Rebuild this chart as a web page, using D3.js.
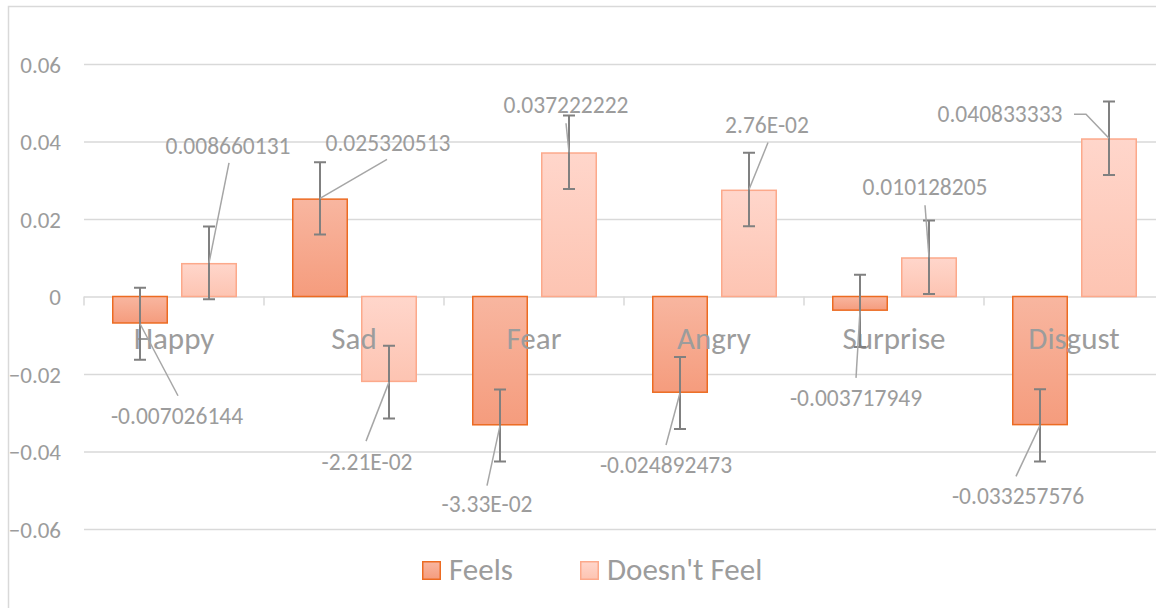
<!DOCTYPE html>
<html>
<head>
<meta charset="utf-8">
<script src="https://cdn.jsdelivr.net/npm/d3@7"></script>
<style>
  html, body { margin: 0; padding: 0; background: #fff; }
  svg { display: block; }
  text { font-family: Calibri, Carlito, Lato, "Open Sans", sans-serif; }
</style>
</head>
<body>
<svg id="chart" width="1156" height="608"></svg>
<script>
// ---- data ----
const categories = ["Happy", "Sad", "Fear", "Angry", "Surprise", "Disgust"];
const series = ["Feels", "Doesn't Feel"];
const feels = [-0.007026144, 0.025320513, -0.0333, -0.024892473, -0.003717949, -0.033257576];
const doesntFeel = [0.008660131, -0.0221, 0.037222222, 0.0276, 0.010128205, 0.040833333];
const feelsErr = [0.0093, 0.0093, 0.0093, 0.0093, 0.0093, 0.0093];
const doesntFeelErr = [0.0094, 0.0094, 0.0095, 0.0095, 0.0095, 0.0095];
const feelsLabels = ["-0.007026144", "0.025320513", "-3.33E-02", "-0.024892473", "-0.003717949", "-0.033257576"];
const doesntFeelLabels = ["0.008660131", "-2.21E-02", "0.037222222", "2.76E-02", "0.010128205", "0.040833333"];
const yTicks = [-0.06, -0.04, -0.02, 0, 0.02, 0.04, 0.06];

// ---- label layout (pixel offsets of label centre from bar end; leader end offset from label centre) ----
const feelsLabelLayout = [
  {dx: 37, dy: 92, lx: 1, ly: -20},
  {dx: 68, dy: -56, lx: -1, ly: 17},
  {dx: -13, dy: 78, lx: 0, ly: -18},
  {dx: -14, dy: 72, lx: 0, ly: -20},
  {dx: -4, dy: 87, lx: 0, ly: -20},
  {dx: -22, dy: 70, lx: -2, ly: -19}
];
const doesntLabelLayout = [
  {dx: 19, dy: -117, lx: 1, ly: 17},
  {dx: -22, dy: 80, lx: -1, ly: -21},
  {dx: -3, dy: -47, lx: 0, ly: 18},
  {dx: 18, dy: -65, lx: 1, ly: 18},
  {dx: -4, dy: -70, lx: 0, ly: 18},
  {dx: -109, dy: -24, lx: 74, ly: 0, elbow: 12}
];

const svg = d3.select("#chart");
const W = 1156, H = 608;

// chart border
svg.append("path")
  .attr("d", `M8.5,${H} L8.5,6.5 L${W},6.5`)
  .attr("fill", "none").attr("stroke", "#d9d9d9").attr("stroke-width", 1.5);

const x0 = d3.scaleBand().domain(categories).range([84, 1164]).paddingInner(0).paddingOuter(0);
const x1 = d3.scaleBand().domain(series).range([28, 153]).paddingInner(13 / 69).paddingOuter(0);
const y = d3.scaleLinear().domain([-0.06, 0.06]).range([529, 64]);

const fmt = v => v === 0 ? "0" : d3.format(".2f")(v);
const textColor = "#9c9c9c";

// gridlines
const grid = svg.append("g").attr("transform", `translate(84,0)`)
  .call(d3.axisLeft(y).tickValues(yTicks).tickSize(-(W - 84)).tickFormat(""));
grid.select(".domain").remove();
grid.selectAll("line").attr("stroke", "#d9d9d9").attr("stroke-width", 1.5);

// y tick labels
const yAxis = svg.append("g").attr("transform", `translate(61,0)`)
  .call(d3.axisLeft(y).tickValues(yTicks).tickSize(0).tickPadding(0).tickFormat(fmt));
yAxis.select(".domain").remove();
yAxis.selectAll("text")
  .attr("fill", textColor).style("font-size", "23px")
  .attr("dy", "0.35em");

// category tick marks
const boundaries = categories.map(c => x0(c)).concat([x0.range()[1]]);
svg.append("g").selectAll("line").data(boundaries).join("line")
  .attr("x1", d => d).attr("x2", d => d)
  .attr("y1", y(0)).attr("y2", y(0) + 9)
  .attr("stroke", "#d9d9d9").attr("stroke-width", 1.5);

// gradients
const defs = svg.append("defs");
function grad(id, c1, c2) {
  const g = defs.append("linearGradient").attr("id", id)
    .attr("x1", 0).attr("y1", 0).attr("x2", 0).attr("y2", 1);
  g.append("stop").attr("offset", "0%").attr("stop-color", c1);
  g.append("stop").attr("offset", "100%").attr("stop-color", c2);
}
grad("gFeels", "#f8b6a0", "#f59c7d");
grad("gDoesnt", "#ffd6cb", "#fdc4b2");

const seriesData = [
  {name: series[0], values: feels, err: feelsErr, labels: feelsLabels, layout: feelsLabelLayout, fill: "url(#gFeels)", stroke: "#ec6b22"},
  {name: series[1], values: doesntFeel, err: doesntFeelErr, labels: doesntFeelLabels, layout: doesntLabelLayout, fill: "url(#gDoesnt)", stroke: "#fca98b"}
];

const items = [];
seriesData.forEach(s => {
  categories.forEach((c, i) => {
    items.push({s, c, i, v: s.values[i], e: s.err[i], label: s.labels[i], lay: s.layout[i],
      cx: x0(c) + x1(s.name) + x1.bandwidth() / 2});
  });
});

// bars
svg.append("g").selectAll("rect").data(items).join("rect")
  .attr("x", d => x0(d.c) + x1(d.s.name) + 0.75)
  .attr("width", x1.bandwidth() - 1.5)
  .attr("y", d => Math.min(y(d.v), y(0)) + (d.v >= 0 ? 0.75 : 0))
  .attr("height", d => Math.abs(y(d.v) - y(0)) - 0.75)
  .attr("fill", d => d.s.fill)
  .attr("stroke", d => d.s.stroke).attr("stroke-width", 1.5);

// category labels
svg.append("g").selectAll("text").data(categories).join("text")
  .attr("x", d => x0(d) + x0.bandwidth() / 2)
  .attr("y", 349)
  .attr("text-anchor", "middle")
  .attr("fill", textColor).style("font-size", "31px")
  .text(d => d);

// error bars
const eb = svg.append("g").attr("stroke", "#808080").attr("stroke-width", 2).attr("fill", "none");
eb.selectAll("path").data(items).join("path")
  .attr("d", d => {
    const t = y(d.v + d.e), b = y(d.v - d.e), cx = d.cx;
    return `M${cx},${t}L${cx},${b}M${cx - 6},${t}L${cx + 6},${t}M${cx - 6},${b}L${cx + 6},${b}`;
  });

// leader lines
svg.append("g").attr("stroke", "#a6a6a6").attr("stroke-width", 1.5).attr("fill", "none")
  .selectAll("path").data(items).join("path")
  .attr("d", d => {
    const bx = d.cx, by = y(d.v);
    const lx = bx + d.lay.dx, ly = by + d.lay.dy;
    const ex = lx + d.lay.lx, ey = ly + d.lay.ly;
    if (d.lay.elbow) {
      return `M${bx},${by}L${ex + d.lay.elbow},${ey}L${ex},${ey}`;
    }
    return `M${bx},${by}L${ex},${ey}`;
  });

// data labels
svg.append("g").selectAll("text").data(items).join("text")
  .attr("x", d => d.cx + d.lay.dx)
  .attr("y", d => y(d.v) + d.lay.dy)
  .attr("dy", "0.35em")
  .attr("text-anchor", "middle")
  .attr("fill", textColor).style("font-size", "23.5px")
  .text(d => d.label);

// legend
const legend = svg.append("g");
const legX = [422, 580];
seriesData.forEach((s, i) => {
  const g = legend.append("g").attr("transform", `translate(${legX[i]},561)`);
  g.append("rect").attr("x", 0.75).attr("y", 0.75).attr("width", 17.5).attr("height", 17.5)
    .attr("fill", s.fill).attr("stroke", s.stroke).attr("stroke-width", 1.5);
  g.append("text").attr("x", 27).attr("y", 19)
    .attr("fill", textColor).style("font-size", "31px").text(s.name);
});
</script>
</body>
</html>
